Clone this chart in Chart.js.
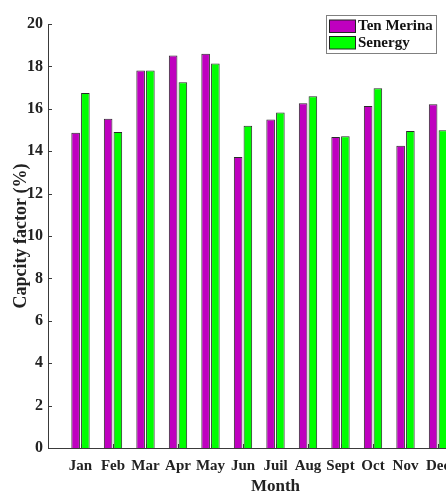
<!DOCTYPE html>
<html>
<head>
<meta charset="utf-8">
<script src="https://cdn.jsdelivr.net/npm/chart.js@4/dist/chart.umd.min.js"></script>
<style>
  html, body { margin: 0; padding: 0; background: #fff; overflow: hidden; }
  #wrap { position: relative; width: 512px; height: 495px; }
</style>
</head>
<body>
<div id="wrap"><canvas id="graph"></canvas></div>
<script>
var months = ["Jan", "Feb", "Mar", "Apr", "May", "Jun", "Juil", "Aug", "Sept", "Oct", "Nov", "Dec"];
var tenMerina = [14.87, 15.53, 17.81, 18.52, 18.60, 13.73, 15.49, 16.26, 14.67, 16.13, 14.26, 16.21];
var senergy = [16.75, 14.91, 17.81, 17.25, 18.14, 15.20, 15.82, 16.59, 14.70, 16.97, 14.95, 14.99];
var yTicks = [0, 2, 4, 6, 8, 10, 12, 14, 16, 18, 20];

// empty slot before Jan and two after Dec, like the matlab axis limits
var labels = [""].concat(months, ["", ""]);
function pad(arr) { return [null].concat(arr, [null, null]); }

var serif = "'Liberation Serif', 'Times New Roman', serif";
var axisCol = "#3a3a3a";

// inward tick marks + boxed legend inside the plot
var extras = {
  id: "extras",
  afterDraw: function(chart) {
    var ctx = chart.ctx;
    var xs = chart.scales.x, ys = chart.scales.y;
    var a = chart.chartArea;
    ctx.save();
    ctx.strokeStyle = axisCol;
    ctx.lineWidth = 1;
    ctx.beginPath();
    for (var i = 0; i < ys.ticks.length; i++) {
      var py = Math.round(ys.getPixelForValue(ys.ticks[i].value)) + 0.5;
      ctx.moveTo(a.left, py);
      ctx.lineTo(a.left + 4, py);
    }
    for (var j = 1; j <= months.length; j++) {
      var px = Math.round(xs.getPixelForValue(j)) + 0.5;
      ctx.moveTo(px, a.bottom);
      ctx.lineTo(px, a.bottom - 4);
    }
    ctx.stroke();

    // legend
    var lx = a.left + 278, ly = a.top - 9;
    ctx.fillStyle = "#fff";
    ctx.fillRect(lx, ly, 110, 38);
    ctx.strokeStyle = "#808080";
    ctx.strokeRect(lx + 0.5, ly + 0.5, 110, 38);
    ctx.font = "bold 15px " + serif;
    ctx.textBaseline = "middle";
    ctx.textAlign = "left";
    chart.data.datasets.forEach(function(ds, k) {
      var sy = ly + 5 + k * 16.5;
      ctx.fillStyle = ds.backgroundColor;
      ctx.fillRect(lx + 3.5, sy, 26, 12.5);
      ctx.strokeStyle = "#222";
      ctx.strokeRect(lx + 3.5, sy, 26, 12.5);
      ctx.fillStyle = "#111";
      ctx.fillText(ds.label, lx + 32, sy + 6.5);
    });
    ctx.restore();
  }
};

new Chart("graph", {
  type: "bar",
  data: {
    labels: labels,
    datasets: [{
      label: "Ten Merina",
      data: pad(tenMerina),
      backgroundColor: "#bf00bf",
      borderColor: "#2a2a2a",
      borderWidth: 1
    }, {
      label: "Senergy",
      data: pad(senergy),
      backgroundColor: "#00ff00",
      borderColor: "#2a2a2a",
      borderWidth: 1
    }]
  },
  options: {
    responsive: true,
    maintainAspectRatio: false,
    animation: false,
    categoryPercentage: 0.6,
    barPercentage: 0.88,
    layout: { padding: { top: 24, right: 0, bottom: 0, left: 0 } },
    plugins: { legend: { display: false }, tooltip: { enabled: false } },
    scales: {
      x: {
        offset: false,
        grid: { display: false, drawTicks: false },
        border: { display: true, color: axisCol, width: 1 },
        ticks: {
          autoSkip: false, maxRotation: 0, minRotation: 0, padding: 9,
          color: "#222", font: { family: serif, size: 15, weight: "bold" }
        },
        title: {
          display: true, text: "Month", color: "#222",
          font: { family: serif, size: 17, weight: "bold", lineHeight: 1 },
          padding: { top: 0, bottom: 0 }
        },
        afterFit: function(s) { s.height = 47; }
      },
      y: {
        min: 0, max: 20,
        afterBuildTicks: function(s) { s.ticks = yTicks.map(function(v) { return { value: v }; }); },
        grid: { display: false, drawTicks: false },
        border: { display: true, color: axisCol, width: 1 },
        ticks: {
          padding: 5, color: "#222",
          font: { family: serif, size: 16, weight: "bold" }
        },
        title: {
          display: true, text: "Capcity factor (%)", color: "#222",
          font: { family: serif, size: 18, weight: "bold" },
          padding: { top: 11, bottom: 0 }
        },
        afterFit: function(s) { s.width = 48; }
      }
    }
  },
  plugins: [extras]
});
</script>
</body>
</html>
